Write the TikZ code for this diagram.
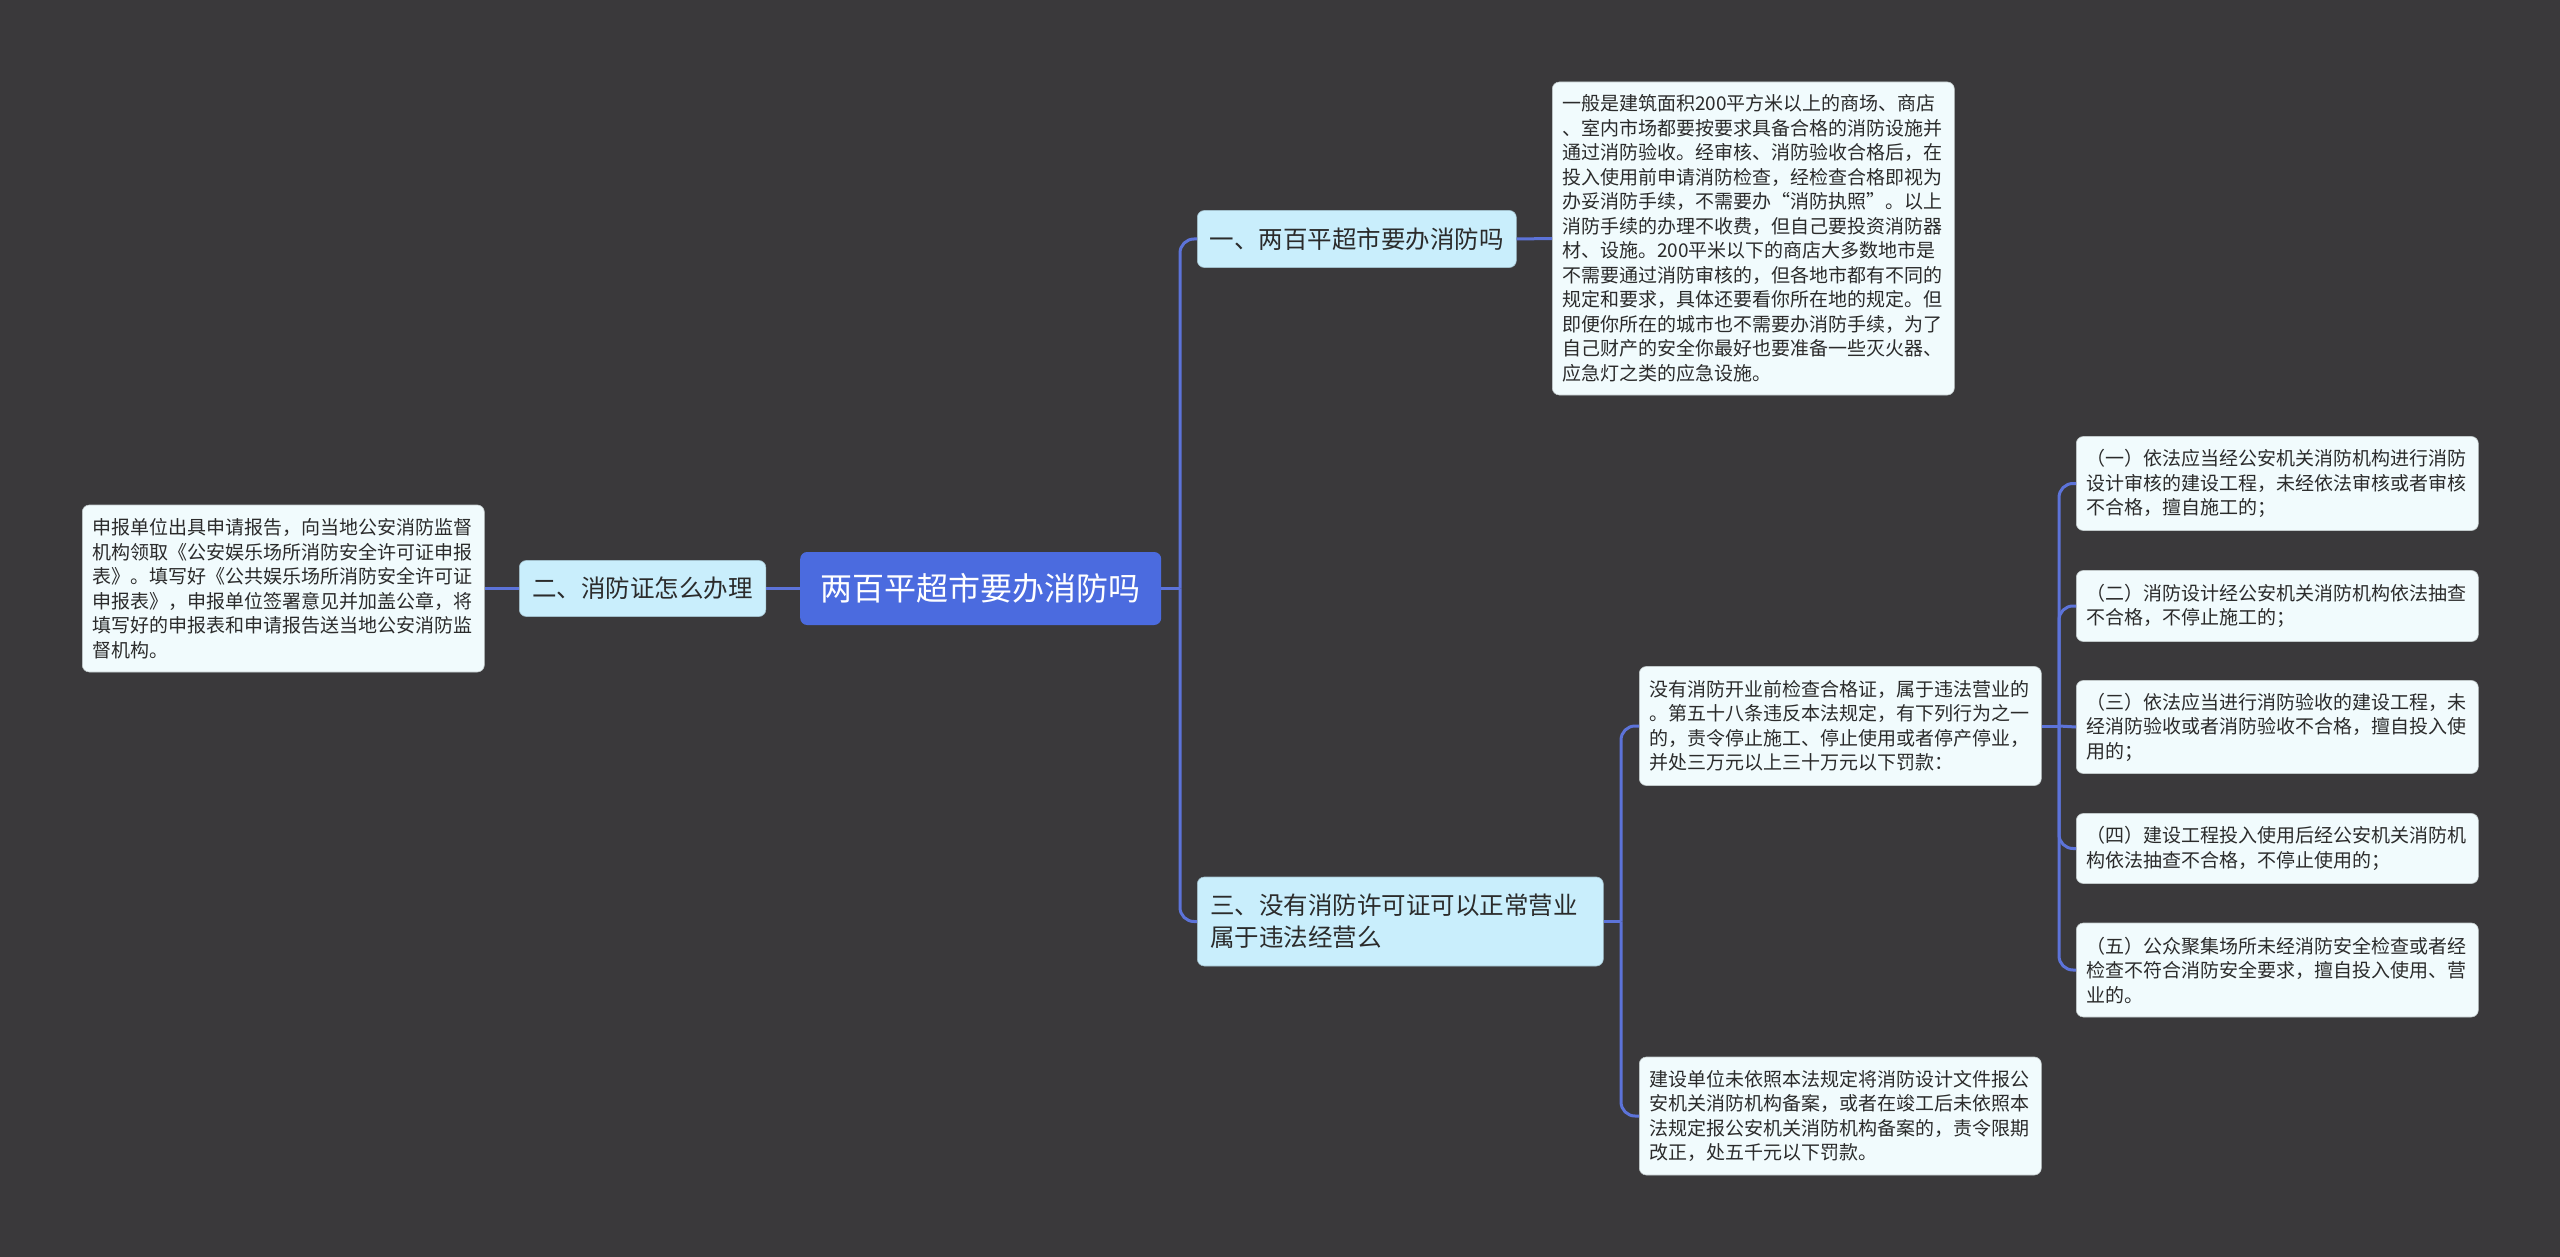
\documentclass[tikz,border=0pt]{standalone}
\usepackage{fontspec}
\setmainfont{Noto Sans CJK SC}
\definecolor{bgc}{HTML}{3A393B}
\definecolor{linec}{HTML}{5C73D9}
\definecolor{rootc}{HTML}{4B6BDF}
\definecolor{branchc}{HTML}{C9EEFC}
\definecolor{leafc}{HTML}{F1FBFD}
\definecolor{txtc}{HTML}{2B2B2B}
\begin{document}
\begin{tikzpicture}[x=1pt,y=-1pt,
  rootbox/.style={fill=rootc, rounded corners=7pt, text=white, font=\fontsize{32}{38}\selectfont, inner xsep=19pt, minimum width=361pt, minimum height=73pt, anchor=west},
  branchbox/.style={fill=branchc, draw=branchc!80!black, line width=0.6pt, rounded corners=7pt, text=txtc, font=\fontsize{24.5}{31.7}\selectfont, align=left, inner xsep=12pt, anchor=west},
  leafbox/.style={fill=leafc, draw=leafc!80!black, line width=0.6pt, rounded corners=7pt, text=txtc, font=\fontsize{19}{24.5}\selectfont, align=left, inner xsep=10pt, inner ysep=7pt, text width=382pt, anchor=west},
  conn/.style={draw=linec, line width=3pt},
  connr/.style={conn, rounded corners=14pt}
]
\fill[bgc] (0,0) rectangle (2560,1257);
\useasboundingbox (0,0) rectangle (2560,1257);

\node[rootbox] (root) at (800,588.5) {两百平超市要办消防吗};

\node[branchbox, minimum width=245pt, minimum height=56pt, inner xsep=13pt] (b2) at (519,588.5) {二、消防证怎么办理};
\node[leafbox, minimum height=167pt] (leafL) at (82,588.5) {申报单位出具申请报告，向当地公安消防监督\\机构领取《公安娱乐场所消防安全许可证申报\\表》。填写好《公共娱乐场所消防安全许可证\\申报表》，申报单位签署意见并加盖公章，将\\填写好的申报表和申请报告送当地公安消防监\\督机构。};

\node[branchbox, minimum width=319pt, minimum height=57pt] (b1) at (1197,239) {一、两百平超市要办消防吗};
\node[leafbox, minimum height=313pt] (leafT) at (1552,238.5) {一般是建筑面积200平方米以上的商场、商店\\、室内市场都要按要求具备合格的消防设施并\\通过消防验收。经审核、消防验收合格后，在\\投入使用前申请消防检查，经检查合格即视为\\办妥消防手续，不需要办“消防执照”。以上\\消防手续的办理不收费，但自己要投资消防器\\材、设施。200平米以下的商店大多数地市是\\不需要通过消防审核的，但各地市都有不同的\\规定和要求，具体还要看你所在地的规定。但\\即便你所在的城市也不需要办消防手续，为了\\自己财产的安全你最好也要准备一些灭火器、\\应急灯之类的应急设施。};

\node[branchbox, text width=380pt, inner xsep=13pt, minimum height=89pt] (b3) at (1197,921.5) {三、没有消防许可证可以正常营业\\属于违法经营么};

\node[leafbox, minimum height=119pt] (leafM) at (1639,726) {没有消防开业前检查合格证，属于违法营业的\\。第五十八条违反本法规定，有下列行为之一\\的，责令停止施工、停止使用或者停产停业，\\并处三万元以上三十万元以下罚款：};
\node[leafbox, minimum height=118pt] (leafB) at (1639,1116) {建设单位未依照本法规定将消防设计文件报公\\安机关消防机构备案，或者在竣工后未依照本\\法规定报公安机关消防机构备案的，责令限期\\改正，处五千元以下罚款。};

\node[leafbox, minimum height=94pt] (c1) at (2076,483.5) {（一）依法应当经公安机关消防机构进行消防\\设计审核的建设工程，未经依法审核或者审核\\不合格，擅自施工的；};
\node[leafbox, minimum height=71pt] (c2) at (2076,606) {（二）消防设计经公安机关消防机构依法抽查\\不合格，不停止施工的；};
\node[leafbox, minimum height=93pt] (c3) at (2076,727) {（三）依法应当进行消防验收的建设工程，未\\经消防验收或者消防验收不合格，擅自投入使\\用的；};
\node[leafbox, minimum height=70pt] (c4) at (2076,848.5) {（四）建设工程投入使用后经公安机关消防机\\构依法抽查不合格，不停止使用的；};
\node[leafbox, minimum height=94pt] (c5) at (2076,970) {（五）公众聚集场所未经消防安全检查或者经\\检查不符合消防安全要求，擅自投入使用、营\\业的。};

\coordinate (j1) at (1180,588.5);
\coordinate (j2) at (1621,921.5);
\coordinate (j3) at (2059,726);

\begin{scope}[on background layer/.style={}]
\draw[conn] (root.west) -- (b2.east);
\draw[conn] (b2.west) -- (leafL.east);
\draw[conn] (root.east) -- (j1);
\draw[connr] (j1) |- (b1.west);
\draw[connr] (j1) |- (b3.west);
\draw[conn] (b1.east) -- (leafT.west);
\draw[conn] (b3.east) -- (j2);
\draw[connr] (j2) |- (leafM.west);
\draw[connr] (j2) |- (leafB.west);
\draw[conn] (leafM.east) -- (j3);
\draw[connr] (j3) |- (c1.west);
\draw[connr] (j3) |- (c2.west);
\draw[conn] (j3) -- (c3.west);
\draw[connr] (j3) |- (c4.west);
\draw[connr] (j3) |- (c5.west);
\end{scope}
\end{tikzpicture}
\end{document}
